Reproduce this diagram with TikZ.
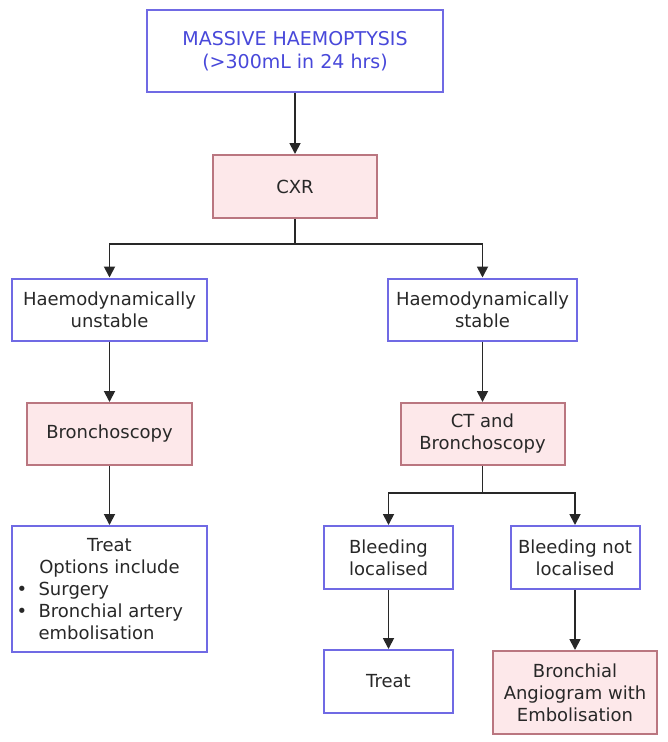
\documentclass[tikz,border=0pt]{standalone}
\usepackage{fontspec}
\setmainfont{DejaVu Sans}
\usetikzlibrary{arrows.meta}

\definecolor{boxblue}{RGB}{112,106,228}
\definecolor{massblue}{RGB}{72,72,218}
\definecolor{pinkfill}{RGB}{253,232,234}
\definecolor{pinkline}{RGB}{186,118,128}
\definecolor{inkgray}{RGB}{40,40,40}

\begin{document}
\begin{tikzpicture}[x=1pt,y=-1pt,
    font=\fontsize{18}{22}\selectfont, text=inkgray,
    bluebox/.style={draw=boxblue, line width=2pt, fill=white, align=center, inner sep=0pt},
    pinkbox/.style={draw=pinkline, line width=2pt, fill=pinkfill, align=center, inner sep=0pt},
    joint/.style={draw=inkgray, line width=1.8pt},
    link/.style={joint, -{Triangle[width=11pt,length=11pt]}}]
  \useasboundingbox (0,0) rectangle (668,742);
  % top of the chart
  \node[bluebox, minimum width=296pt, minimum height=82pt, text=massblue,
    font=\fontsize{19}{23}\selectfont] (massive) at (295,51) {MASSIVE HAEMOPTYSIS\\(>300mL in 24 hrs)};
  \node[pinkbox, minimum width=164pt, minimum height=63pt] (cxr) at (295,186.5) {CXR};
  \coordinate (fork1) at (295,244);
  % left branch
  \node[bluebox, minimum width=195pt, minimum height=62pt] (unstable) at (109.5,309.5) {Haemodynamically\\unstable};
  \node[pinkbox, minimum width=165pt, minimum height=62pt] (bronch) at (109.5,434) {Bronchoscopy};
  \node[bluebox, minimum width=195pt, minimum height=126pt] (options) at (109.5,589) {Treat\\Options include\\
    \makebox[186pt][l]{\textbullet\ \ Surgery}\\
    \makebox[186pt][l]{\textbullet\ \ Bronchial artery}\\
    \makebox[186pt][l]{\hphantom{\textbullet\ \ }embolisation}};
  % right branch
  \node[bluebox, minimum width=189pt, minimum height=62pt] (stable) at (482.5,309.5) {Haemodynamically\\stable};
  \node[pinkbox, minimum width=164pt, minimum height=62pt] (ctbronch) at (482.5,434) {CT and\\Bronchoscopy};
  \coordinate (fork2) at (482.5,493);
  \node[bluebox, minimum width=129pt, minimum height=63pt] (local) at (388.5,557.5) {Bleeding\\localised};
  \node[bluebox, minimum width=129pt, minimum height=63pt] (notlocal) at (575,557.5) {Bleeding not\\localised};
  \node[bluebox, minimum width=129pt, minimum height=63pt] (treat) at (388.5,681.5) {Treat};
  \node[pinkbox, minimum width=164pt, minimum height=83pt] (angio) at (575,692.5) {Bronchial\\Angiogram with\\Embolisation};
  % connectors
  \draw[link] (massive) -- (cxr);
  \draw[joint] (cxr) -- (fork1);
  \draw[link] (fork1) -| (unstable);
  \draw[link] (fork1) -| (stable);
  \draw[link] (unstable) -- (bronch);
  \draw[link] (bronch) -- (options);
  \draw[link] (stable) -- (ctbronch);
  \draw[joint] (ctbronch) -- (fork2);
  \draw[link] (fork2) -| (local);
  \draw[link] (fork2) -| (notlocal);
  \draw[link] (local) -- (treat);
  \draw[link] (notlocal) -- (angio);
\end{tikzpicture}
\end{document}
